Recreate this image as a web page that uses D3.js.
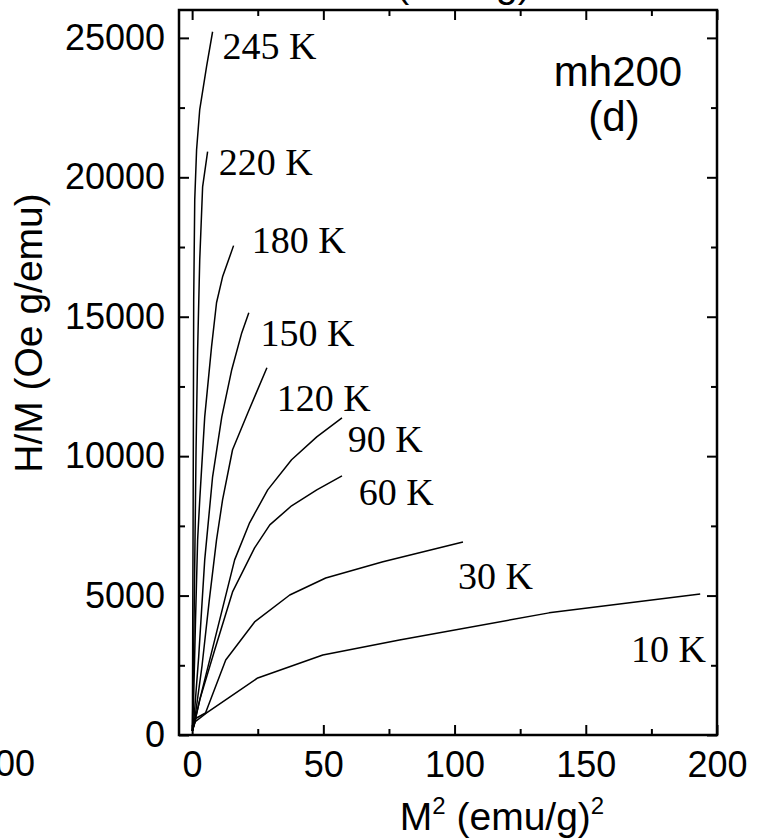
<!DOCTYPE html>
<html>
<head>
<meta charset="utf-8">
<script src="https://cdn.jsdelivr.net/npm/d3@7"></script>
<style>
  html, body { margin: 0; padding: 0; background: #fff; }
  svg { display: block; }
</style>
</head>
<body>
<svg id="chart" width="766" height="840"></svg>
<script>
// ---- data ----
const temps = ["10 K", "30 K", "60 K", "90 K", "120 K", "150 K", "180 K", "220 K", "245 K"];

const m2_10K  = [0.1, 1.2, 5.5, 14.3, 25, 49.8, 79, 136, 193.6];
const hm_10K  = [150, 480, 790, 1360, 2045, 2870, 3410, 4380, 5060];

const m2_30K  = [0.1, 1.5, 5.1, 12.8, 23.8, 37.2, 50.9, 72.7, 103.2];
const hm_30K  = [150, 600, 790, 2690, 4055, 5020, 5630, 6210, 6925];

const m2_60K  = [0.1, 1.0, 2.9, 8.6, 15.4, 23.8, 29.6, 37.9, 47.5, 57.1];
const hm_60K  = [150, 470, 1260, 3050, 5130, 6710, 7535, 8220, 8790, 9290];

const m2_90K  = [0.1, 1.0, 2.9, 8.6, 16.2, 21.9, 28.8, 37.9, 47.5, 57.1];
const hm_90K  = [150, 470, 1260, 3410, 6280, 7610, 8790, 9870, 10690, 11370];

const m2_120K = [0.1, 1.2, 3.8, 6.5, 9.3, 11.6, 15.4, 21.2, 28.5];
const hm_120K = [150, 700, 2500, 4800, 7000, 8430, 10230, 11550, 13170];

const m2_150K = [0.1, 0.8, 2.5, 4.8, 7.8, 11.3, 15.1, 18.9, 21.6];
const hm_150K = [150, 700, 2800, 6280, 9260, 11410, 13100, 14420, 15140];

const m2_180K = [0.1, 0.5, 1.3, 2.1, 2.9, 4.8, 7.4, 9.3, 11.6, 15.8];
const hm_180K = [150, 1000, 4130, 7000, 8430, 11410, 13920, 15500, 16430, 17550];

const m2_220K = [0.1, 0.6, 1.1, 1.5, 2.1, 2.9, 4.0, 5.9];
const hm_220K = [150, 3050, 7000, 10230, 13810, 17040, 19660, 20920];

const m2_245K = [0.1, 0.2, 0.4, 0.6, 1.0, 1.7, 2.9, 5.5, 7.8];
const hm_245K = [150, 3050, 8430, 15610, 19200, 20990, 22430, 23970, 25220];

const xMajorTicks = [0, 50, 100, 150, 200];
const xMinorTicks = [25, 75, 125, 175];
const yMajorTicks = [0, 5000, 10000, 15000, 20000, 25000];
const yMinorTicks = [2500, 7500, 12500, 17500, 22500];

// label anchor points (data units) for the temperature annotations
const labelM2 = [167.2, 101.3, 63.5, 59.3, 32.2, 26.1, 22.7, 10.1, 11.6];
const labelHM = [2619, 5239, 8253, 10154, 11625, 13958, 17294, 20093, 24256];

const sampleName = "mh200";
const panelTag = "(d)";

// ---- layout ----
const svg = d3.select("#chart");
const L = 179, R = 717, T = 10, B = 735;
const sans = "'Liberation Sans', Arial, Helvetica, sans-serif";
const serif = "'Liberation Serif', 'Times New Roman', serif";

const x = d3.scaleLinear().domain([-5, 200]).range([L, R]);
const y = d3.scaleLinear().domain([0, 26000]).range([B, T]);

const series = [
  [m2_10K, hm_10K], [m2_30K, hm_30K], [m2_60K, hm_60K], [m2_90K, hm_90K],
  [m2_120K, hm_120K], [m2_150K, hm_150K], [m2_180K, hm_180K],
  [m2_220K, hm_220K], [m2_245K, hm_245K]
];

// fragments of neighbouring panels (cut off by the image edge)
svg.append("text").attr("x", 340).attr("y", -3)
  .attr("font-family", sans).attr("font-size", 39)
  .text("M² (emu/g)²");
svg.append("text").attr("x", 35).attr("y", 776)
  .attr("text-anchor", "end")
  .attr("font-family", sans).attr("font-size", 36)
  .text("200");

// curves
const line = d3.line().x(d => x(d[0])).y(d => y(d[1]));
const g = svg.append("g");
series.forEach(([xs, ys]) => {
  g.append("path")
    .datum(xs.map((v, i) => [v, ys[i]]))
    .attr("d", line)
    .attr("fill", "none")
    .attr("stroke", "#000")
    .attr("stroke-width", 1.5)
    .attr("stroke-linejoin", "round");
});

// axes
function styleAxis(sel) {
  sel.selectAll(".domain").remove();
  sel.selectAll("line").attr("stroke", "#000").attr("stroke-width", 2);
  sel.selectAll("text").attr("font-family", sans).attr("font-size", 36).attr("fill", "#000");
}
svg.append("g").attr("transform", `translate(0,${B})`)
  .call(d3.axisBottom(x).tickValues(xMajorTicks).tickSizeInner(-10).tickSizeOuter(0).tickPadding(16).tickFormat(d3.format("d")))
  .call(styleAxis);
svg.append("g").attr("transform", `translate(0,${B})`)
  .call(d3.axisBottom(x).tickValues(xMinorTicks).tickSizeInner(-6).tickSizeOuter(0).tickFormat(""))
  .call(styleAxis);
svg.append("g").attr("transform", `translate(0,${T})`)
  .call(d3.axisTop(x).tickValues(xMajorTicks).tickSizeInner(-10).tickSizeOuter(0).tickFormat(""))
  .call(styleAxis);
svg.append("g").attr("transform", `translate(0,${T})`)
  .call(d3.axisTop(x).tickValues(xMinorTicks).tickSizeInner(-6).tickSizeOuter(0).tickFormat(""))
  .call(styleAxis);
svg.append("g").attr("transform", `translate(${L},0)`)
  .call(d3.axisLeft(y).tickValues(yMajorTicks).tickSizeInner(-10).tickSizeOuter(0).tickPadding(14).tickFormat(d3.format("d")))
  .call(styleAxis);
svg.append("g").attr("transform", `translate(${L},0)`)
  .call(d3.axisLeft(y).tickValues(yMinorTicks).tickSizeInner(-6).tickSizeOuter(0).tickFormat(""))
  .call(styleAxis);
svg.append("g").attr("transform", `translate(${R},0)`)
  .call(d3.axisRight(y).tickValues(yMajorTicks).tickSizeInner(-10).tickSizeOuter(0).tickFormat(""))
  .call(styleAxis);
svg.append("g").attr("transform", `translate(${R},0)`)
  .call(d3.axisRight(y).tickValues(yMinorTicks).tickSizeInner(-6).tickSizeOuter(0).tickFormat(""))
  .call(styleAxis);

// frame
svg.append("rect").attr("x", L).attr("y", T).attr("width", R - L).attr("height", B - T)
  .attr("fill", "none").attr("stroke", "#000").attr("stroke-width", 2.5);

// axis titles
const xt = svg.append("text").attr("x", 502).attr("y", 830)
  .attr("text-anchor", "middle").attr("font-family", sans).attr("font-size", 39);
xt.append("tspan").text("M");
xt.append("tspan").attr("font-size", 24).attr("dy", -16).text("2");
xt.append("tspan").attr("dy", 16).text(" (emu/g)");
xt.append("tspan").attr("font-size", 24).attr("dy", -16).text("2");

svg.append("text")
  .attr("transform", "translate(42,333) rotate(-90)")
  .attr("text-anchor", "middle").attr("font-family", sans).attr("font-size", 39)
  .text("H/M (Oe g/emu)");

// temperature labels
temps.forEach((t, i) => {
  svg.append("text")
    .attr("x", x(labelM2[i])).attr("y", y(labelHM[i]))
    .attr("font-family", serif).attr("font-size", 38)
    .text(t);
});

// panel labels
svg.append("text").attr("x", 618).attr("y", 86).attr("text-anchor", "middle")
  .attr("font-family", sans).attr("font-size", 42).text(sampleName);
svg.append("text").attr("x", 614).attr("y", 131).attr("text-anchor", "middle")
  .attr("font-family", sans).attr("font-size", 42).text(panelTag);
</script>
</body>
</html>
